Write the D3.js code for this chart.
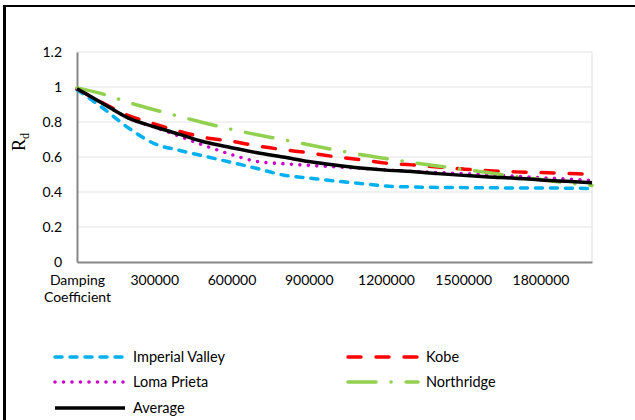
<!DOCTYPE html>
<html>
<head>
<meta charset="utf-8">
<script src="https://cdn.jsdelivr.net/npm/d3@7"></script>
<style>
  html, body { margin: 0; padding: 0; background: #fff; }
  svg { display: block; }
</style>
</head>
<body>
<svg id="chart" width="635" height="420"></svg>
<script>
// ---- data ----
const dampingCoefficients = [0, 100000, 200000, 300000, 400000, 500000, 600000, 700000, 800000, 900000, 1000000,
  1100000, 1200000, 1300000, 1400000, 1500000, 1600000, 1700000, 1800000, 1900000, 2000000];
const imperialValley = [0.985, 0.88, 0.766, 0.677, 0.637, 0.603, 0.569, 0.534, 0.497, 0.48, 0.463,
  0.449, 0.434, 0.429, 0.426, 0.425, 0.424, 0.423, 0.423, 0.422, 0.42];
const kobe = [0.99, 0.909, 0.837, 0.789, 0.746, 0.71, 0.69, 0.663, 0.642, 0.624, 0.602,
  0.584, 0.565, 0.555, 0.543, 0.531, 0.521, 0.515, 0.511, 0.506, 0.501];
const lomaPrieta = [0.99, 0.906, 0.822, 0.771, 0.717, 0.663, 0.614, 0.574, 0.562, 0.552, 0.544,
  0.535, 0.526, 0.518, 0.511, 0.505, 0.498, 0.49, 0.482, 0.474, 0.466];
const northridge = [0.995, 0.96, 0.912, 0.87, 0.831, 0.793, 0.758, 0.727, 0.699, 0.67, 0.641,
  0.614, 0.591, 0.569, 0.549, 0.53, 0.51, 0.489, 0.471, 0.453, 0.437];
const average = [0.99, 0.906, 0.822, 0.773, 0.729, 0.684, 0.653, 0.624, 0.6, 0.574, 0.554,
  0.537, 0.525, 0.517, 0.505, 0.495, 0.486, 0.479, 0.469, 0.461, 0.453];
const xTickValues = [0, 300000, 600000, 900000, 1200000, 1500000, 1800000];
const xFirstLabel = ["Damping", "Coefficient"];
const yTickValues = [0, 0.2, 0.4, 0.6, 0.8, 1, 1.2];
const seriesNames = ["Imperial Valley", "Kobe", "Loma Prieta", "Northridge", "Average"];

// ---- styles ----
const styles = {
  "Imperial Valley": { color: "#00B0F0", width: 3.5, dash: "7,8", cap: "round" },
  "Kobe":            { color: "#FF0000", width: 3.5, dash: "13,15", cap: "round" },
  "Loma Prieta":     { color: "#CC00CC", width: 3.6, dash: "0,8.5", cap: "round" },
  "Northridge":      { color: "#92D050", width: 3.5, dash: "28,15,0.1,15", cap: "round" },
  "Average":         { color: "#000000", width: 3.5, dash: null, cap: "butt" }
};
const seriesData = {
  "Imperial Valley": imperialValley,
  "Kobe": kobe,
  "Loma Prieta": lomaPrieta,
  "Northridge": northridge,
  "Average": average
};

const svg = d3.select("#chart");
const font = "Lato, 'Open Sans', sans-serif";

// chart border
svg.append("line").attr("x1", 4.5).attr("x2", 4.5).attr("y1", 5).attr("y2", 420)
  .attr("stroke", "#000").attr("stroke-width", 3);
svg.append("line").attr("x1", 3).attr("x2", 635).attr("y1", 6).attr("y2", 6)
  .attr("stroke", "#000").attr("stroke-width", 2);

const plot = { left: 77, right: 592, top: 52, bottom: 262 };
const x = d3.scaleLinear().domain([0, 2000000]).range([plot.left, plot.right]);
const y = d3.scaleLinear().domain([0, 1.2]).range([plot.bottom, plot.top]);

// gridlines
svg.append("g").selectAll("line").data(yTickValues.filter(d => d > 0)).join("line")
  .attr("x1", plot.left).attr("x2", plot.right)
  .attr("y1", d => y(d)).attr("y2", d => y(d))
  .attr("stroke", "#e4e4e4").attr("stroke-width", 1.2);
// right plot border
svg.append("line").attr("x1", plot.right).attr("x2", plot.right)
  .attr("y1", plot.top).attr("y2", plot.bottom)
  .attr("stroke", "#e4e4e4").attr("stroke-width", 1.2);

// y axis
const yAxis = svg.append("g").attr("transform", `translate(${plot.left},0)`)
  .call(d3.axisLeft(y).tickValues(yTickValues).tickSize(0).tickPadding(15)
    .tickFormat(d => d3.format("")(+d.toFixed(1))));
yAxis.select(".domain").attr("stroke", "#868686").attr("stroke-width", 2);
yAxis.selectAll("text").attr("font-family", font).attr("font-size", 14).attr("fill", "#000");

// x axis
const xAxis = svg.append("g").attr("transform", `translate(0,${plot.bottom})`)
  .call(d3.axisBottom(x).tickValues(xTickValues).tickSize(0).tickPadding(13)
    .tickFormat(d => d === 0 ? "" : String(d)));
xAxis.select(".domain").attr("stroke", "#868686").attr("stroke-width", 2);
xAxis.selectAll("text").attr("font-family", font).attr("font-size", 14).attr("fill", "#000");
const firstTick = xAxis.selectAll(".tick").filter(d => d === 0).select("text");
firstTick.text(null);
firstTick.selectAll("tspan").data(xFirstLabel).join("tspan")
  .attr("x", 0).attr("dy", (d, i) => i === 0 ? "0.71em" : "1.22em").text(d => d);

// y axis title
const yTitle = svg.append("text")
  .attr("transform", "translate(25,142) rotate(-90)")
  .attr("text-anchor", "middle")
  .attr("font-family", "'Liberation Serif', 'Times New Roman', serif")
  .attr("font-size", 18).attr("fill", "#000");
yTitle.append("tspan").text("R");
yTitle.append("tspan").attr("font-size", 12).attr("dy", 4).text("d");

// lines
const line = d3.line()
  .x((d, i) => x(dampingCoefficients[i]))
  .y(d => y(d))
  .curve(d3.curveMonotoneX);

svg.append("g").selectAll("path").data(seriesNames).join("path")
  .attr("d", n => line(seriesData[n]))
  .attr("fill", "none")
  .attr("stroke", n => styles[n].color)
  .attr("stroke-width", n => styles[n].width)
  .attr("stroke-dasharray", n => styles[n].dash)
  .attr("stroke-linecap", n => styles[n].cap)
  .attr("stroke-linejoin", "round");

// legend
const legendPos = [
  { lx: 55, ty: 357 }, { lx: 348, ty: 357 },
  { lx: 55, ty: 382 }, { lx: 348, ty: 382 },
  { lx: 55, ty: 408 }
];
const legend = svg.append("g").selectAll("g").data(seriesNames).join("g")
  .attr("transform", (n, i) => `translate(${legendPos[i].lx},${legendPos[i].ty})`);
legend.append("line")
  .attr("x1", 0).attr("x2", 70).attr("y1", 0).attr("y2", 0)
  .attr("stroke", n => styles[n].color)
  .attr("stroke-width", n => styles[n].width)
  .attr("stroke-dasharray", n => styles[n].dash)
  .attr("stroke-linecap", n => styles[n].cap);
legend.append("text")
  .attr("x", 78).attr("y", 0).attr("dy", "0.35em")
  .attr("font-family", font).attr("font-size", 14.5).attr("fill", "#000")
  .text(n => n);
</script>
</body>
</html>
